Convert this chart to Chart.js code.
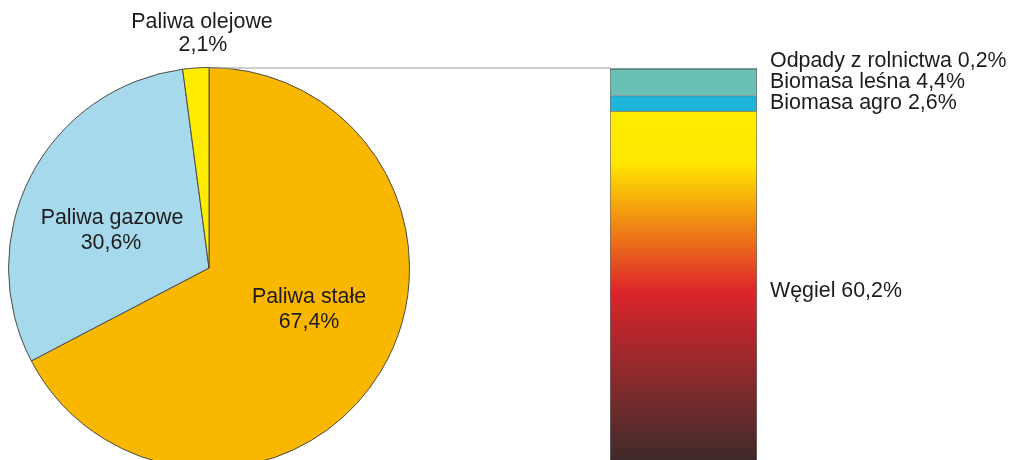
<!DOCTYPE html>
<html>
<head>
<meta charset="utf-8">
<script src="https://cdn.jsdelivr.net/npm/chart.js@4/dist/chart.umd.min.js"></script>
<style>
  html, body { margin: 0; padding: 0; background: #fff; overflow: hidden; width: 1011px; height: 460px; }
  canvas { position: absolute; }
  #pie_chart { left: 0; top: 0; }
  #bar_chart { left: 600px; top: 40px; }
</style>
</head>
<body>
<canvas id="pie_chart" width="610" height="480"></canvas>
<canvas id="bar_chart" width="411" height="440"></canvas>
<script>
// udział paliw (koło)
var pieLabels = ['Paliwa stałe', 'Paliwa gazowe', 'Paliwa olejowe']
var pieValues = [67.4, 30.6, 2.1]
var pieColors = ['#f9b700', '#a6d9eb', '#ffec00']

// rozbicie paliw stałych (słupek), od dołu do góry
var barLabels = ['Węgiel', 'Biomasa agro', 'Biomasa leśna', 'Odpady z rolnictwa']
var barValues = [60.2, 2.6, 4.4, 0.2]
var barColors = [null, '#1eb5da', '#6bc0b6', '#6bc0b6']

var textFont = '21.4px "Liberation Sans", Arial, sans-serif'
var textColor = '#1f1b1c'

function pct(v) {
    return v.toFixed(1).replace('.', ',') + '%'
}

var pieText = {
    id: 'pieText',
    afterDraw: function (chart) {
        var ctx = chart.ctx
        var arc = chart.getDatasetMeta(0).data[0]
        var cx = arc.x, cy = arc.y, r = arc.outerRadius
        ctx.save()
        // linia do słupka
        ctx.strokeStyle = '#9b9b9b'
        ctx.lineWidth = 1
        ctx.beginPath()
        ctx.moveTo(cx, cy - r + 0.5)
        ctx.lineTo(chart.width, cy - r + 0.5)
        ctx.stroke()

        ctx.font = textFont
        ctx.fillStyle = textColor
        ctx.textAlign = 'center'
        ctx.textBaseline = 'middle'
        // stałe
        ctx.fillText(pieLabels[0], cx + 100, cy + 29)
        ctx.fillText(pct(pieValues[0]), cx + 100, cy + 54)
        // gazowe
        ctx.fillText(pieLabels[1], cx - 97, cy - 50)
        ctx.fillText(pct(pieValues[1]), cx - 98, cy - 25)
        // olejowe (nad kołem)
        ctx.fillText(pieLabels[2], cx - 7, cy - r - 45)
        ctx.fillText(pct(pieValues[2]), cx - 6, cy - r - 22)
        ctx.restore()
    }
}

new Chart(document.getElementById('pie_chart').getContext('2d'), {
    type: 'pie',
    data: {
        labels: pieLabels,
        datasets: [{
            data: pieValues,
            backgroundColor: pieColors,
            borderColor: '#4a4a4a',
            borderWidth: 1
        }]
    },
    options: {
        responsive: false,
        animation: false,
        layout: { padding: { top: 67, left: 8, right: 200, bottom: 11 } },
        plugins: { legend: { display: false }, tooltip: { enabled: false } }
    },
    plugins: [pieText]
})

function coalGradient(context) {
    var chart = context.chart
    var area = chart.chartArea
    if (!area) return '#f39200'
    var y = chart.scales.y
    var top = y.getPixelForValue(barValues[0])
    var bottom = y.getPixelForValue(0)
    var g = chart.ctx.createLinearGradient(0, top, 0, bottom)
    g.addColorStop(0, '#ffec00')
    g.addColorStop(0.14, '#ffe800')
    g.addColorStop(0.33, '#ef7f16')
    g.addColorStop(0.50, '#dc252b')
    g.addColorStop(0.77, '#7f2a2c')
    g.addColorStop(1, '#342a2a')
    return g
}

var barText = {
    id: 'barText',
    afterDraw: function (chart) {
        var ctx = chart.ctx
        ctx.save()
        ctx.font = textFont
        ctx.fillStyle = textColor
        ctx.textAlign = 'left'
        ctx.textBaseline = 'middle'
        chart.data.datasets.forEach(function (ds, i) {
            var el = chart.getDatasetMeta(i).data[0]
            var x = el.x + el.width / 2 + 13
            var y = (el.y + el.base) / 2
            if (i == barLabels.length - 1) y = el.y - 7
            ctx.fillText(barLabels[i] + ' ' + pct(barValues[i]), x, y)
        })
        ctx.restore()
    }
}

new Chart(document.getElementById('bar_chart').getContext('2d'), {
    type: 'bar',
    data: {
        labels: ['Paliwa stałe'],
        datasets: barValues.map(function (v, i) {
            return {
                label: barLabels[i],
                data: [v],
                backgroundColor: i == 0 ? coalGradient : barColors[i],
                borderColor: '#6d6d6d',
                borderWidth: 1,
                barPercentage: 1,
                categoryPercentage: 1
            }
        })
    },
    options: {
        responsive: false,
        animation: false,
        layout: { padding: { top: 28, left: 10, right: 254, bottom: 8 } },
        scales: {
            x: { stacked: true, display: false },
            y: { stacked: true, display: false, min: 0, max: 67.4 }
        },
        plugins: { legend: { display: false }, tooltip: { enabled: false } }
    },
    plugins: [barText]
})
</script>
</body>
</html>
